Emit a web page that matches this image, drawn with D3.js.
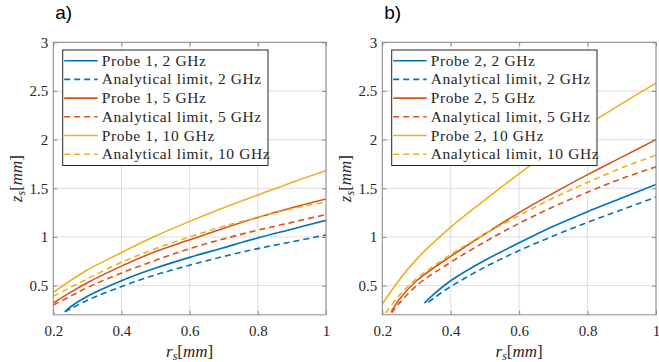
<!DOCTYPE html>
<html><head><meta charset="utf-8">
<script src="https://cdn.jsdelivr.net/npm/d3@7"></script>
<style>
body{margin:0;background:#fff;}
svg text{font-family:"Liberation Serif","Times New Roman",serif;fill:#262626;}
</style></head>
<body><svg id="c" width="659" height="362"></svg>
<script>
// ---- data ----
const xTicks = [0.2, 0.4, 0.6, 0.8, 1];
const yTicks = [0.5, 1, 1.5, 2, 2.5, 3];
const xTickLabels = ["0.2", "0.4", "0.6", "0.8", "1"];
const yTickLabels = ["0.5", "1", "1.5", "2", "2.5", "3"];
const colors = ["#0072BD", "#D95319", "#EDB120"];

// Panel a) Probe 1
const p1_2_x  = [0.234, 0.25, 0.3, 0.4, 0.5, 0.6, 0.7, 0.8, 0.9, 1.0];
const p1_2_y  = [0.23, 0.28, 0.39, 0.55, 0.68, 0.79, 0.89, 0.99, 1.08, 1.17];
const a1_2_x  = [0.234, 0.25, 0.3, 0.4, 0.5, 0.6, 0.7, 0.8, 0.9, 1.0];
const a1_2_y  = [0.23, 0.26, 0.35, 0.49, 0.61, 0.71, 0.80, 0.88, 0.95, 1.02];
const p1_5_x  = [0.2, 0.25, 0.3, 0.4, 0.5, 0.6, 0.7, 0.8, 0.9, 1.0];
const p1_5_y  = [0.32, 0.43, 0.53, 0.70, 0.85, 0.97, 1.09, 1.20, 1.30, 1.39];
const a1_5_x  = [0.2, 0.25, 0.3, 0.4, 0.5, 0.6, 0.7, 0.8, 0.9, 1.0];
const a1_5_y  = [0.30, 0.39, 0.48, 0.63, 0.76, 0.88, 0.98, 1.07, 1.15, 1.23];
const p1_10_x = [0.2, 0.25, 0.3, 0.4, 0.5, 0.6, 0.7, 0.8, 0.9, 1.0];
const p1_10_y = [0.43, 0.55, 0.66, 0.84, 1.01, 1.16, 1.30, 1.43, 1.56, 1.68];
const a1_10_x = [0.2, 0.25, 0.3, 0.4, 0.5, 0.6, 0.7, 0.8, 0.9, 1.0];
const a1_10_y = [0.39, 0.48, 0.57, 0.74, 0.88, 1.00, 1.11, 1.20, 1.29, 1.36];

// Panel b) Probe 2
const p2_2_x  = [0.323, 0.35, 0.4, 0.5, 0.6, 0.7, 0.8, 0.9, 1.0];
const p2_2_y  = [0.32, 0.41, 0.55, 0.76, 0.94, 1.11, 1.26, 1.40, 1.54];
const a2_2_x  = [0.335, 0.35, 0.4, 0.5, 0.6, 0.7, 0.8, 0.9, 1.0];
const a2_2_y  = [0.33, 0.37, 0.49, 0.69, 0.86, 1.01, 1.15, 1.28, 1.41];
const p2_5_x  = [0.226, 0.25, 0.3, 0.4, 0.5, 0.6, 0.7, 0.8, 0.9, 1.0];
const p2_5_y  = [0.23, 0.36, 0.55, 0.80, 1.03, 1.25, 1.45, 1.64, 1.82, 2.00];
const a2_5_x  = [0.227, 0.25, 0.3, 0.4, 0.5, 0.6, 0.7, 0.8, 0.9, 1.0];
const a2_5_y  = [0.22, 0.32, 0.50, 0.74, 0.95, 1.14, 1.31, 1.46, 1.60, 1.72];
const p2_10_x = [0.2, 0.25, 0.3, 0.4, 0.5, 0.6, 0.7, 0.8, 0.9, 1.0];
const p2_10_y = [0.31, 0.56, 0.77, 1.10, 1.38, 1.65, 1.91, 2.15, 2.37, 2.58];
const a2_10_x = [0.21, 0.25, 0.3, 0.4, 0.5, 0.6, 0.7, 0.8, 0.9, 1.0];
const a2_10_y = [0.22, 0.40, 0.57, 0.82, 1.03, 1.22, 1.40, 1.56, 1.71, 1.84];

const legend1 = ["Probe 1, 2 GHz","Analytical limit, 2 GHz","Probe 1, 5 GHz","Analytical limit, 5 GHz","Probe 1, 10 GHz","Analytical limit, 10 GHz"];
const legend2 = ["Probe 2, 2 GHz","Analytical limit, 2 GHz","Probe 2, 5 GHz","Analytical limit, 5 GHz","Probe 2, 10 GHz","Analytical limit, 10 GHz"];

const panels = [
  {label:"a)", left:53.3, right:326, legendRight:268, legend:legend1,
   series:[[p1_2_x,p1_2_y],[a1_2_x,a1_2_y],[p1_5_x,p1_5_y],[a1_5_x,a1_5_y],[p1_10_x,p1_10_y],[a1_10_x,a1_10_y]]},
  {label:"b)", left:382.3, right:656, legendRight:597, legend:legend2,
   series:[[p2_2_x,p2_2_y],[a2_2_x,a2_2_y],[p2_5_x,p2_5_y],[a2_5_x,a2_5_y],[p2_10_x,p2_10_y],[a2_10_x,a2_10_y]]}
];

const svg = d3.select("#c");
const plotTop = 42.3, plotBottom = 314.8;
const axisCol = "#8a8a8a";

panels.forEach((P, pi) => {
  const x = d3.scaleLinear().domain([0.2, 1]).range([P.left, P.right]);
  const y = d3.scaleLinear().domain([0.2, 3]).range([plotBottom, plotTop]);
  const g = svg.append("g");

  // grid
  g.selectAll(".gx").data(xTicks).enter().append("line")
    .attr("x1", d => x(d)).attr("x2", d => x(d)).attr("y1", plotTop).attr("y2", plotBottom)
    .attr("stroke", "#dedede").attr("stroke-width", 1);
  g.selectAll(".gy").data(yTicks).enter().append("line")
    .attr("y1", d => y(d)).attr("y2", d => y(d)).attr("x1", P.left).attr("x2", P.right)
    .attr("stroke", "#dedede").attr("stroke-width", 1);

  // clip
  const cid = "clip" + pi;
  svg.append("clipPath").attr("id", cid).append("rect")
    .attr("x", P.left).attr("y", plotTop).attr("width", P.right - P.left).attr("height", plotBottom - plotTop);

  const line = d3.line().x(d => x(d[0])).y(d => y(d[1])).curve(d3.curveCatmullRom.alpha(0.5));
  const lg = g.append("g").attr("clip-path", `url(#${cid})`);
  P.series.forEach((s, i) => {
    const pts = s[0].map((v, k) => [v, s[1][k]]);
    lg.append("path").datum(pts).attr("d", line)
      .attr("fill", "none").attr("stroke", colors[Math.floor(i / 2)])
      .attr("stroke-width", 1.6)
      .attr("stroke-dasharray", i % 2 ? "6,4" : null);
  });

  // axes box
  g.append("rect").attr("x", P.left).attr("y", plotTop).attr("width", P.right - P.left).attr("height", plotBottom - plotTop)
    .attr("fill", "none").attr("stroke", axisCol).attr("stroke-width", 1);

  // ticks (inward, all sides)
  const xa = d3.axisBottom(x).tickValues(xTicks).tickFormat((d, i) => xTickLabels[i]).tickSize(-4).tickPadding(11);
  const xaT = d3.axisTop(x).tickValues(xTicks).tickFormat("").tickSize(-4);
  const ya = d3.axisLeft(y).tickValues(yTicks).tickFormat((d, i) => yTickLabels[i]).tickSize(-4).tickPadding(5);
  const yaR = d3.axisRight(y).tickValues(yTicks).tickFormat("").tickSize(-4);
  [[xa, `translate(0,${plotBottom})`], [xaT, `translate(0,${plotTop})`], [ya, `translate(${P.left},0)`], [yaR, `translate(${P.right},0)`]]
    .forEach(([ax, tr]) => {
      const a = g.append("g").attr("transform", tr).call(ax);
      a.select(".domain").remove();
      a.selectAll("line").attr("stroke", axisCol);
      a.selectAll("text").attr("font-family", "Liberation Serif, serif").attr("font-size", 15).attr("fill", "#262626");
    });

  // axis labels
  const cx = (P.left + P.right) / 2;
  const xl = g.append("text").attr("x", cx).attr("y", 357).attr("text-anchor", "middle").attr("font-size", 17);
  xl.append("tspan").attr("font-style", "italic").text("r");
  xl.append("tspan").attr("font-style", "italic").attr("font-size", 12).attr("dy", 3).text("s");
  xl.append("tspan").attr("dy", -3).text("[");
  xl.append("tspan").attr("font-style", "italic").text("mm");
  xl.append("tspan").text("]");

  const cy = (plotTop + plotBottom) / 2;
  const yl = g.append("text").attr("transform", `translate(${P.left - 31},${cy}) rotate(-90)`)
    .attr("text-anchor", "middle").attr("font-size", 17);
  yl.append("tspan").attr("font-style", "italic").text("z");
  yl.append("tspan").attr("font-style", "italic").attr("font-size", 12).attr("dy", 3).text("s");
  yl.append("tspan").attr("dy", -3).text("[");
  yl.append("tspan").attr("font-style", "italic").text("mm");
  yl.append("tspan").text("]");

  // panel label
  g.append("text").attr("x", P.left + 2).attr("y", 19)
    .attr("font-size", 19).style("fill", "#000").style("font-family", "'Liberation Sans', sans-serif").text(P.label);

  // legend
  const lx = P.left + 9.4, ly = 50;
  const lgG = g.append("g");
  lgG.append("rect").attr("x", lx).attr("y", ly).attr("width", P.legendRight - lx).attr("height", 115.5)
    .attr("fill", "#fff").attr("stroke", "#262626").attr("stroke-width", 1);
  P.legend.forEach((t, i) => {
    const yy = ly + 10.7 + i * 18.7;
    lgG.append("line").attr("x1", lx + 1.5).attr("x2", lx + 35).attr("y1", yy).attr("y2", yy)
      .attr("stroke", colors[Math.floor(i / 2)]).attr("stroke-width", 1.6)
      .attr("stroke-dasharray", i % 2 ? "6,4" : null);
    lgG.append("text").attr("x", lx + 39).attr("y", yy + 5).attr("font-size", 15.5)
      .attr("letter-spacing", 0.6).text(t);
  });
});
</script></body></html>
